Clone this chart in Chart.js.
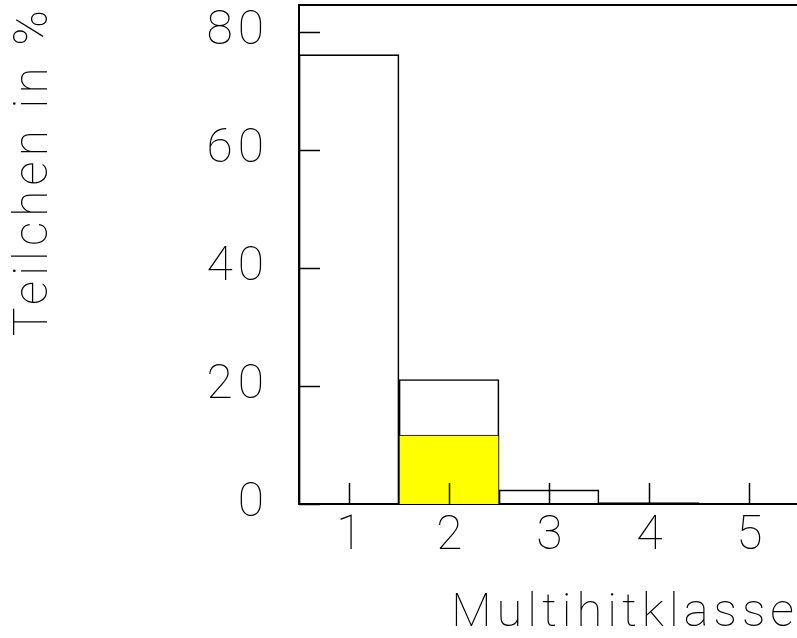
<!DOCTYPE html>
<html>
<head>
<meta charset="utf-8">
<script src="https://cdn.jsdelivr.net/npm/chart.js@4.4.0/dist/chart.umd.min.js"></script>
<style>
  html, body { margin: 0; padding: 0; background: #fff; overflow: hidden; }
  #wrap { position: relative; width: 805px; height: 638px; }
</style>
</head>
<body>
<div id="wrap"><canvas id="hist"></canvas></div>
<script>
// Multihitklasse histogram
var klassen = ['1', '2', '3', '4', '5'];
var alleTeilchen = [76.2, 21.1, 2.4, 0.25, 0];
var gelb = [null, 11.7, null, null, null];
var yTicks = [0, 20, 40, 60, 80];

var schrift = "Roboto, 'DejaVu Sans', sans-serif";

// wide letter spacing like the old stroke font
var sperren = {
  id: 'sperren',
  beforeLayout: function(chart) { chart.ctx.letterSpacing = '5px'; },
  beforeDraw: function(chart) { chart.ctx.letterSpacing = '5px'; }
};

// frame top line + inner tick marks
var rahmen = {
  id: 'rahmen',
  afterDraw: function(chart) {
    var c = chart.ctx, a = chart.chartArea;
    var sx = chart.scales.x, sy = chart.scales.y;
    c.save();
    c.strokeStyle = '#000';
    c.lineWidth = 2;
    c.beginPath();
    c.moveTo(a.left - 1, a.top);
    c.lineTo(a.right + 2, a.top);
    c.stroke();
    c.lineWidth = 1.5;
    c.beginPath();
    yTicks.forEach(function(v) {
      var y = Math.round(sy.getPixelForValue(v)) + 0.5;
      c.moveTo(a.left, y);
      c.lineTo(a.left + 21, y);
    });
    klassen.forEach(function(k, i) {
      var x = Math.round(sx.getPixelForValue(i)) + 0.5;
      c.moveTo(x, a.bottom);
      c.lineTo(x, a.bottom - 21);
    });
    c.stroke();
    c.restore();
  }
};

new Chart(document.getElementById('hist'), {
  type: 'bar',
  data: {
    labels: klassen,
    datasets: [{
      data: gelb,
      backgroundColor: '#ffff00',
      borderColor: '#000',
      borderWidth: 1,
      barPercentage: 1,
      categoryPercentage: 1
    }, {
      data: alleTeilchen,
      backgroundColor: 'rgba(255,255,255,0)',
      borderColor: '#000',
      borderWidth: 1,
      barPercentage: 1,
      categoryPercentage: 1
    }]
  },
  options: {
    responsive: true,
    maintainAspectRatio: false,
    animation: false,
    layout: { padding: { left: 0, right: 6, top: 5, bottom: 0 } },
    plugins: { legend: { display: false }, tooltip: { enabled: false } },
    scales: {
      x: {
        stacked: true,
        grid: { display: false, drawTicks: false, tickLength: 0 },
        border: { display: true, color: '#000', width: 2 },
        ticks: { color: '#000', padding: 4, labelOffset: 3, font: { family: schrift, size: 48, weight: 100 } },
        title: {
          display: true, text: 'Multihitklasse', align: 'end', color: '#000',
          font: { family: schrift, size: 47, weight: 100 }, padding: { top: 10, bottom: -4 }
        },
        afterFit: function(s) { s.height = 134; }
      },
      y: {
        stacked: false,
        min: 0,
        max: 84.6,
        grid: { display: false, drawTicks: true, tickLength: 30 },
        border: { display: true, color: '#000', width: 2 },
        ticks: {
          color: '#000', padding: 0,
          font: { family: schrift, size: 48, weight: 100, lineHeight: 0.2 }
        },
        afterBuildTicks: function(s) {
          s.ticks = yTicks.map(function(v) { return { value: v }; });
        },
        title: {
          display: true, text: 'Teilchen in %', align: 'end', color: '#000',
          font: { family: schrift, size: 48, weight: 100 }, padding: { top: 6, bottom: 0 }
        },
        afterFit: function(s) { s.width = 299; }
      }
    }
  },
  plugins: [sperren, rahmen]
});
</script>
</body>
</html>
